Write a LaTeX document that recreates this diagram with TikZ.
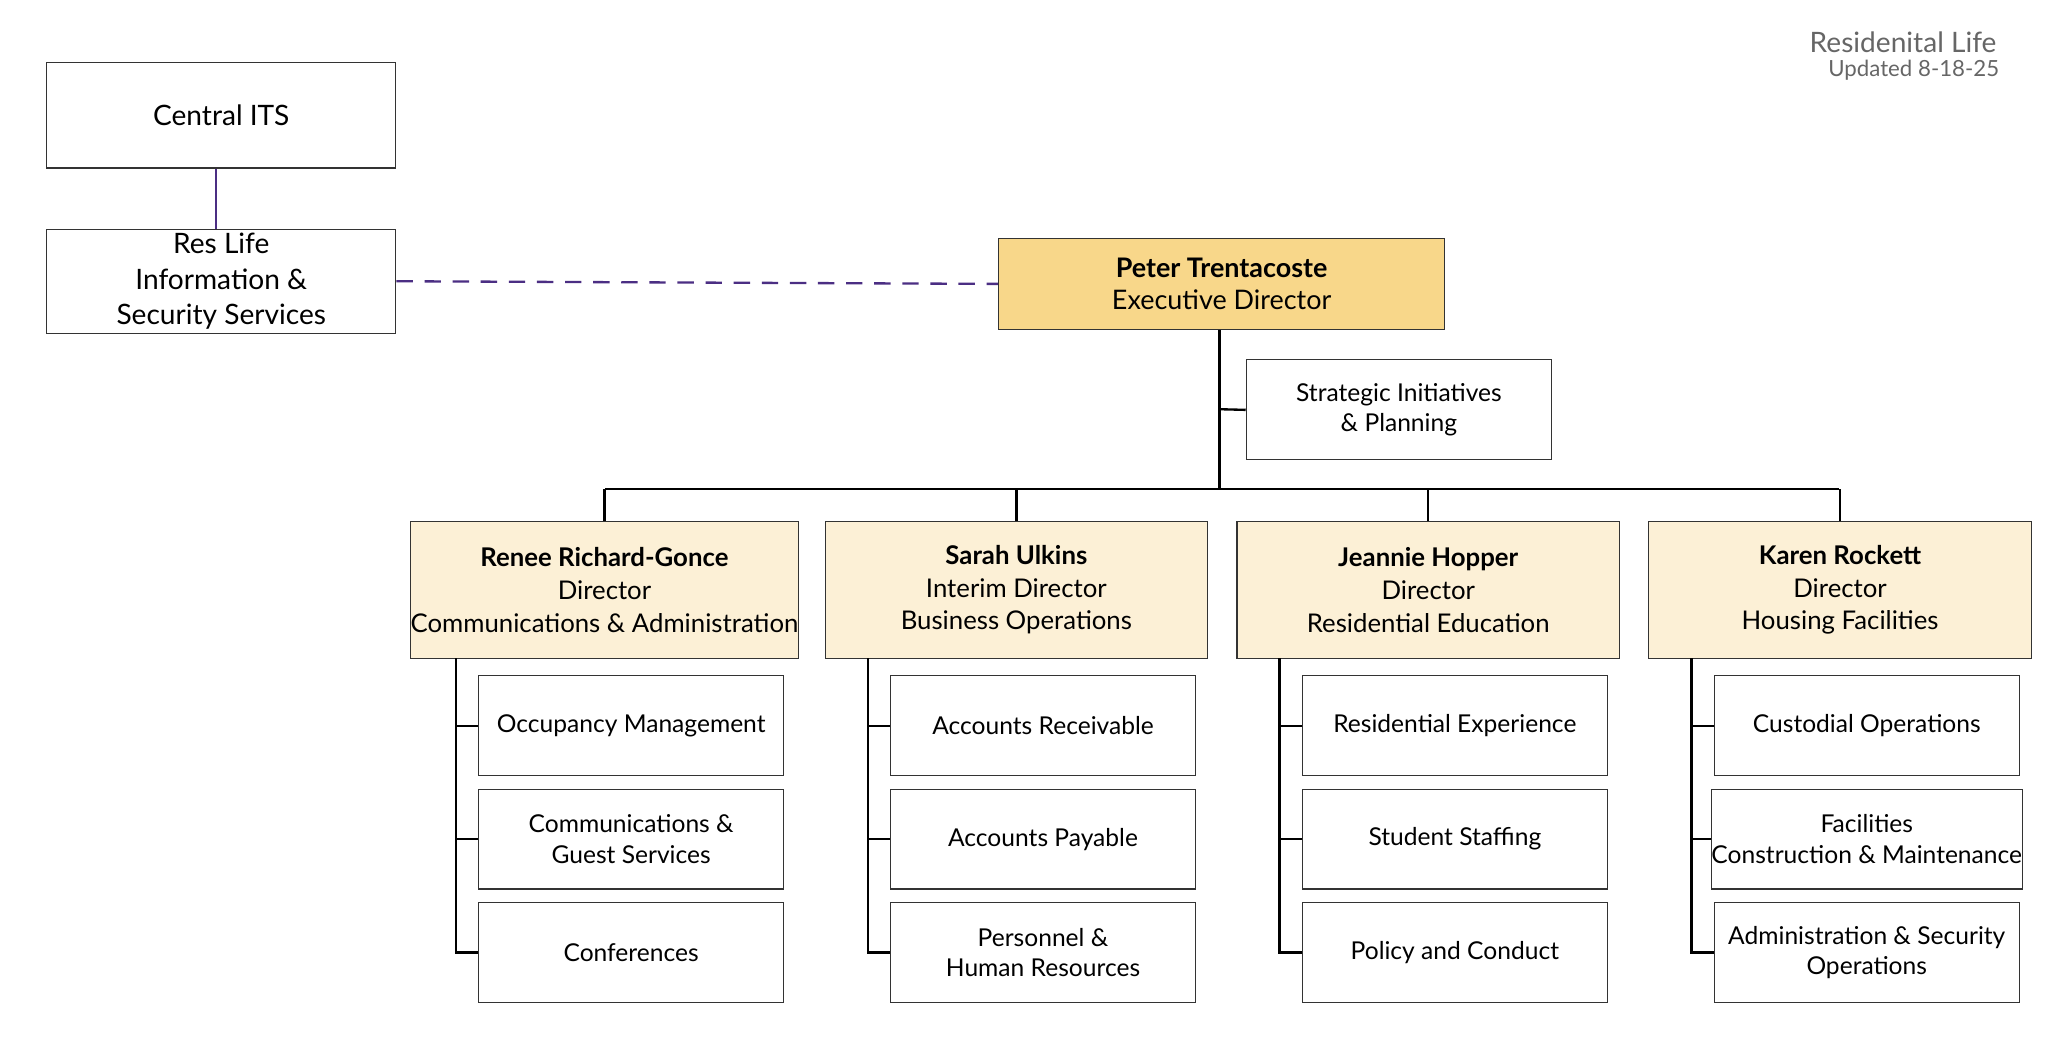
\documentclass[tikz,border=0pt]{standalone}
\usepackage{fontspec}
\setmainfont{Lato}
\begin{document}
\begin{tikzpicture}[x=0.02cm,y=-0.02cm,
  box/.style={draw=black!80,line width=0.5pt,fill=white,align=center,inner sep=0pt,font=\fontsize{10.5}{13}\selectfont},
  dir/.style={box,fill=dirfill},
  conn/.style={line width=1pt,black}]
\definecolor{dirfill}{HTML}{FCF0D6}
\definecolor{exfill}{HTML}{F8D78A}
\definecolor{purp}{HTML}{4B2E83}
\useasboundingbox (0,0) rectangle (1550,792);
\node[box,font=\fontsize{12}{15}\selectfont,minimum width=262\pgflinewidth*0+5.24cm,minimum height=1.58cm] (its) at (166,86.5) {Central ITS};
\node[box,font=\fontsize{12}{15}\selectfont,minimum width=5.24cm,minimum height=1.56cm] (res) at (166,211) {Res Life\\Information \&\\Security Services};
\node[box,fill=exfill,font=\fontsize{11.5}{14}\selectfont,minimum width=6.7cm,minimum height=1.36cm] (pt) at (916.5,213) {\textbf{Peter Trentacoste}\\Executive Director};
\node[box,minimum width=4.58cm,minimum height=1.5cm] (sip) at (1049.5,307.5) {Strategic Initiatives\\\& Planning};
\draw[purp,line width=1pt] (its.south -| 162,0) -- (res.north -| 162,0);
\draw[purp,line width=1pt,dash pattern=on 7pt off 5pt] (res.east) -- (pt.west);
\coordinate (bar) at (915,367);
\draw[conn] (pt.south -| 915,0) -- (bar);
\draw[conn] (915,307) -- (sip.west);
\node[anchor=east,text=black!60,font=\fontsize{12}{14}\selectfont] (t1) at (1504,32) {Residenital Life};
\node[anchor=east,text=black!60,font=\fontsize{9.5}{12}\selectfont] (t2) at (1506,53) {Updated 8-18-25};
\def\mk#1#2#3#4#5#6{%
  \pgfmathsetmacro\L{310+309*#1}
  \node[dir,minimum width=5.74cm,minimum height=2.06cm,font=\fontsize{11}{14}\selectfont] (d#1) at (\L+143.5,442.5) {#2};
  \draw[conn] (\L+143.5,367) -- (d#1.north);
  \foreach \t [count=\i] in {#3,#4,#5}{
    \node[box,minimum width=4.58cm,minimum height=1.5cm] (c#1\i) at (\L+163.5,459.5+85*\i) {\t};
    \draw[conn] (\L+32,459.5+85*\i) -- (c#1\i.west);
  }
  \draw[conn] (\L+32,494) -- (\L+32,714.5) -- (c#13.west);
}
\draw[conn] (454,367) -- (1380,367);
\mk{0}{\textbf{Renee Richard-Gonce}\\Director\\Communications \& Administration}{Occupancy Management}{{Communications \&\\Guest Services}}{Conferences}{}
\mk{1}{\textbf{Sarah Ulkins}\\Interim Director\\Business Operations}{Accounts Receivable}{Accounts Payable}{{Personnel \&\\Human Resources}}{}
\mk{2}{\textbf{Jeannie Hopper}\\Director\\Residential Education}{Residential Experience}{Student Staffing}{Policy and Conduct}{}
\mk{3}{\textbf{Karen Rockett}\\Director\\Housing Facilities}{Custodial Operations}{{Facilities\\Construction \& Maintenance}}{{Administration \& Security\\Operations}}{}
\end{tikzpicture}
\end{document}
